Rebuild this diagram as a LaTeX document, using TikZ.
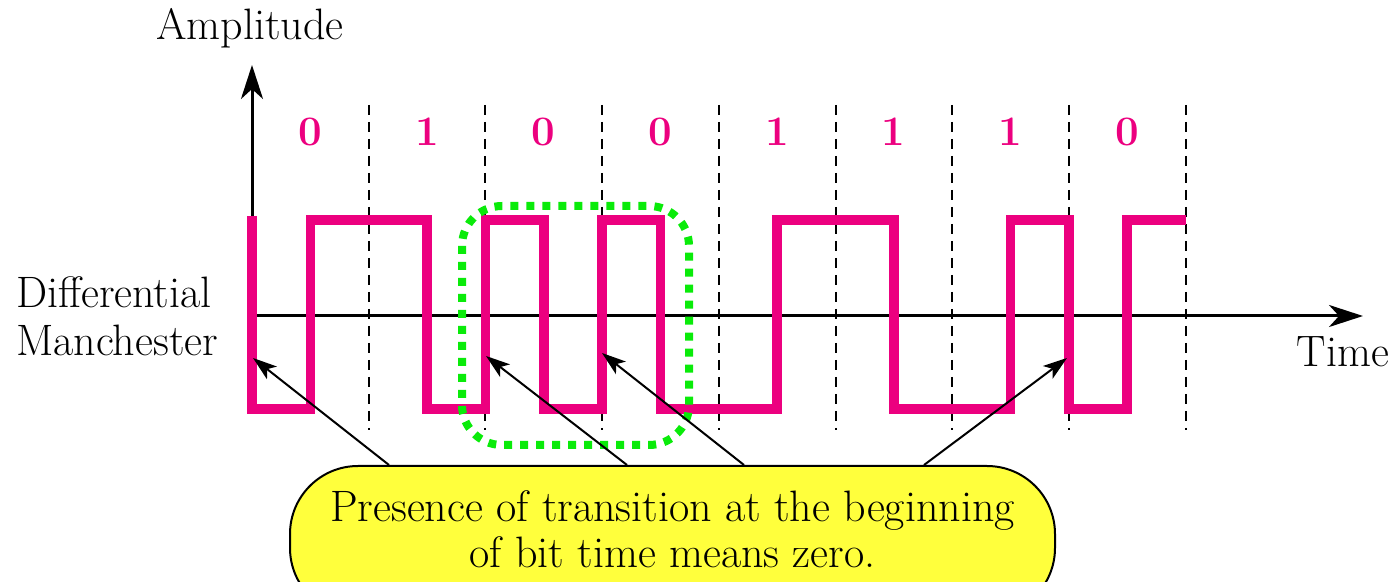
\documentclass[tikz,border=0pt]{standalone}
\usepackage{fontspec}
\usepackage{tikz}
\usetikzlibrary{arrows.meta}

\definecolor{signalpink}{RGB}{236,0,127}
\definecolor{notefill}{RGB}{255,255,60}
\definecolor{markgreen}{RGB}{10,235,10}

\begin{document}
\begin{tikzpicture}[x=0.5pt,y=-0.5pt,
        axis/.style={line width=1.5pt,-{Stealth[length=17pt,width=11pt,inset=5pt]}},
        bitline/.style={line width=1pt,dash pattern=on 5pt off 3.5pt},
        bitlabel/.style={text=signalpink,font=\fontsize{21}{24}\selectfont\bfseries},
        signal/.style={line width=4.8pt,signalpink,line join=miter},
        pointer/.style={line width=1pt,-{Stealth[length=12pt,width=8pt,inset=3pt]}},
        callout/.style={draw,line width=1pt,fill=notefill,rounded corners=34pt,
            minimum width=382.5pt,minimum height=75pt},
        label/.style={font=\fontsize{22}{24}\selectfont}]
        \useasboundingbox (0,0) rectangle (1393,582);

        % bit boundaries
        \draw[bitline] (368.7,105) -- (368.7,430);
        \draw[bitline] (485.4,105) -- (485.4,430);
        \draw[bitline] (602.1,105) -- (602.1,430);
        \draw[bitline] (718.8,105) -- (718.8,430);
        \draw[bitline] (835.5,105) -- (835.5,430);
        \draw[bitline] (952.2,105) -- (952.2,430);
        \draw[bitline] (1068.9,105) -- (1068.9,430);
        \draw[bitline] (1185.6,105) -- (1185.6,430);

        \begin{scope}[every node/.style={bitlabel}]
            \node (b1) at (310.3,132) {0};
            \node (b2) at (427.0,132) {1};
            \node (b3) at (543.7,132) {0};
            \node (b4) at (660.4,132) {0};
            \node (b5) at (777.1,132) {1};
            \node (b6) at (893.8,132) {1};
            \node (b7) at (1010.5,132) {1};
            \node (b8) at (1127.2,132) {0};
        \end{scope}

        % axes
        \coordinate (origin) at (252,316);
        \coordinate (ytop) at (252,65);
        \coordinate (xend) at (1363,316);
        \draw[axis] (origin) -- (ytop);
        \draw[axis] (origin) -- (xend);
        \node[label] (amp) at (250,28) {Amplitude};
        \node[label] (time) at (1343,352) {Time};
        \node[label,align=left] (code) at (117,316) {Differential\\Manchester};

        % differential manchester waveform
        \draw[signal] (252,216) -- (252,409) -- (310.3,409) -- (310.3,220)
            -- (427.0,220) -- (427.0,409) -- (485.4,409) -- (485.4,220)
            -- (543.7,220) -- (543.7,409) -- (602.1,409) -- (602.1,220)
            -- (660.4,220) -- (660.4,409) -- (777.1,409) -- (777.1,220)
            -- (893.8,220) -- (893.8,409) -- (1010.5,409) -- (1010.5,220)
            -- (1068.9,220) -- (1068.9,409) -- (1127.2,409) -- (1127.2,220)
            -- (1185.6,220);

        % highlighted pair of zeros
        \draw[markgreen,line width=4pt,dash pattern=on 4pt off 4pt,rounded corners=20pt]
            (462,206) rectangle (689,445);

        % note with pointers
        \node[callout] (note) at (672.5,541) {};
        \node[font=\fontsize{22}{23}\selectfont,align=center] (msg) at (672.5,529)
            {Presence of transition at the beginning\\of bit time means zero.};
        \coordinate (tr1) at (253,358);
        \coordinate (tr2) at (486,356);
        \coordinate (tr3) at (602,353);
        \coordinate (tr4) at (1067,358);
        \draw[pointer] ([xshift=50pt]note.north west) -- (tr1);
        \draw[pointer] ([xshift=169pt]note.north west) -- (tr2);
        \draw[pointer] ([xshift=227.5pt]note.north west) -- (tr3);
        \draw[pointer] ([xshift=317.5pt]note.north west) -- (tr4);
\end{tikzpicture}
\end{document}
